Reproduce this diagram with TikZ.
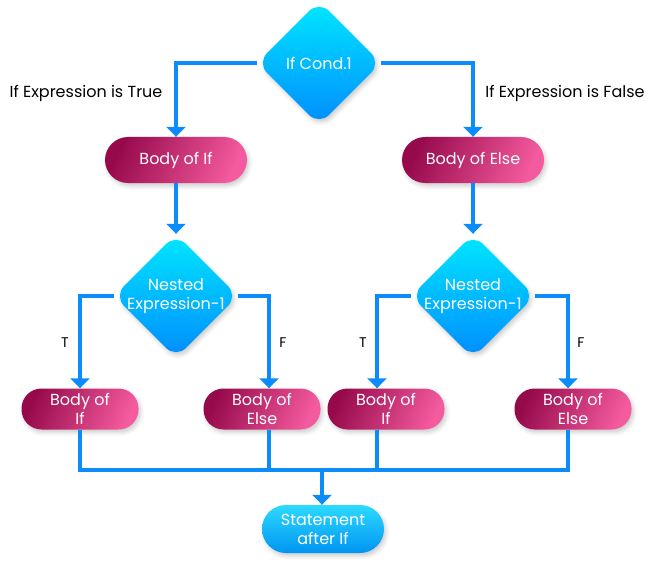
\documentclass[tikz,border=0pt]{standalone}
\usepackage{fontspec}
\setmainfont{Poppins}
\usetikzlibrary{shapes.geometric,arrows.meta,shadows.blur}
\definecolor{lineblue}{RGB}{12,140,250}
\definecolor{diatop}{RGB}{0,232,255}
\definecolor{diabot}{RGB}{0,140,255}
\definecolor{pinkdark}{RGB}{150,10,75}
\definecolor{pinklight}{RGB}{244,90,158}
\definecolor{sttop}{RGB}{45,218,255}
\definecolor{stbot}{RGB}{0,148,242}
\tikzset{
  flow/.style={draw=lineblue, line width=3.8pt},
  flowarrow/.style={flow, -{Triangle[width=19pt,length=10pt]}},
  softshadow/.style={blur shadow={shadow xshift=2pt, shadow yshift=-3pt, shadow opacity=20, shadow blur radius=4pt}},
  dia/.style={diamond, aspect=1, minimum width=124pt, minimum height=124pt, inner sep=0pt,
    rounded corners=14pt, top color=diatop, bottom color=diabot, draw=none, softshadow},
  diatext/.style={text=white, font=\fontsize{16}{18.5}\selectfont, align=center, inner sep=0pt},
  pill/.style={rectangle, rounded corners=20pt, draw=none, text=white, align=center,
    left color=pinkdark, right color=pinklight, shading angle=65, softshadow,
    font=\fontsize{16}{19}\selectfont, inner sep=0pt},
  bigpill/.style={pill, minimum width=142pt, minimum height=46pt, rounded corners=23pt},
  smallpill/.style={pill, minimum width=117pt, minimum height=41pt},
  stpill/.style={pill, minimum width=122pt, minimum height=48pt, rounded corners=24pt,
    top color=sttop, bottom color=stbot},
  lbl/.style={font=\fontsize{16}{18}\selectfont, text=black, inner sep=0pt},
  tf/.style={font=\fontsize{14}{16}\selectfont, text=black, inner sep=0pt}
}
\begin{document}
\begin{tikzpicture}[x=1pt,y=-1pt]
\useasboundingbox (0,0) rectangle (655,564);
% nodes
\node[dia] (c1) at (319,63) {};
\node[diatext] (c1t) at (c1) {If Cond.1};
\node[bigpill] (bi) at (176,160) {Body of If};
\node[bigpill] (be) at (473,160) {Body of Else};
\node[dia] (n1) at (176,296) {};
\node[diatext] (n1t) at (n1) {Nested\\Expression-1};
\node[dia] (n2) at (473,296) {};
\node[diatext] (n2t) at (n2) {Nested\\Expression-1};
\node[smallpill] (b1) at (80,409) {Body of\\If};
\node[smallpill] (b2) at (262,409) {Body of\\Else};
\node[smallpill] (b3) at (386,409) {Body of\\If};
\node[smallpill] (b4) at (573,409) {Body of\\Else};
\node[stpill] (st) at (323,529) {Statement\\after If};
% labels
\node[lbl] (lt) at (86,93) {If Expression is True};
\node[lbl] (lf) at (565,93) {If Expression is False};
\node[tf] (t1) at (65,343) {T};
\node[tf] (f1) at (283,343) {F};
\node[tf] (t2) at (363,343) {T};
\node[tf] (f2) at (581,343) {F};
% connectors
\draw[flowarrow] (c1.west) -| (bi.north);
\draw[flowarrow] (c1.east) -| (be.north);
\draw[flowarrow] (bi.south) -- (n1.north);
\draw[flowarrow] (be.south) -- (n2.north);
\draw[flowarrow] (n1.west) -| (b1.north);
\draw[flowarrow] (n1.east) -| ([xshift=7pt]b2.north);
\draw[flowarrow] (n2.west) -| ([xshift=-9pt]b3.north);
\draw[flowarrow] (n2.east) -| ([xshift=-5pt]b4.north);
\coordinate (bus) at (322,470);
\draw[flow] (b1.south) |- (bus) -| ([xshift=-5pt]b4.south);
\draw[flow] ([xshift=7pt]b2.south) -- ([xshift=7pt]b2.south |- bus);
\draw[flow] ([xshift=-9pt]b3.south) -- ([xshift=-9pt]b3.south |- bus);
\draw[flowarrow] (bus) -- (bus |- st.north);
\end{tikzpicture}
\end{document}
